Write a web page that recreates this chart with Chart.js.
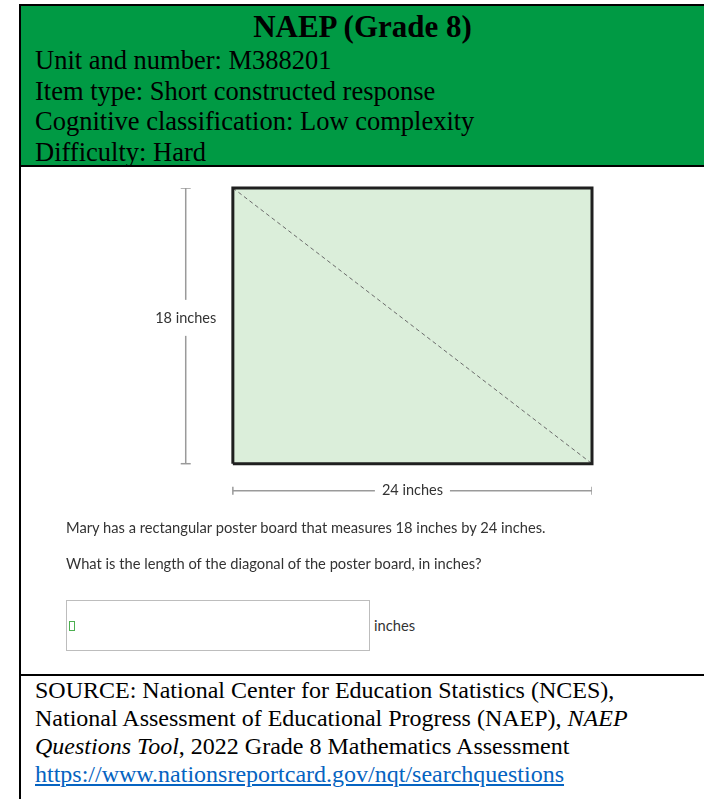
<!DOCTYPE html>
<html>
<head>
<meta charset="utf-8">
<script src="https://cdn.jsdelivr.net/npm/chart.js@4/dist/chart.umd.min.js"></script>
<style>
  body { margin: 0; background: #fff; width: 704px; height: 799px; overflow: hidden; position: relative; }
  .frame-left { position: absolute; left: 19px; top: 4px; width: 2px; height: 795px; background: #000; }
  .rule { position: absolute; left: 19px; width: 685px; height: 2px; background: #000; }
  .header { position: absolute; left: 21px; top: 6px; width: 683px; height: 159px; background: #009a44; }
  .serif { font-family: "Liberation Serif", "Times New Roman", serif; color: #000; }
  .title { position: absolute; left: 21px; width: 683px; top: 7px; text-align: center; font-weight: bold; font-size: 31px; line-height: 40px; }
  .hline { position: absolute; left: 35px; font-size: 26.5px; line-height: 30px; white-space: nowrap; }
  .item { position: absolute; font-family: Lato, "Open Sans", sans-serif; font-size: 14.7px; color: #333; white-space: nowrap; }
  .answer { position: absolute; left: 66px; top: 600px; width: 304px; height: 51px; border: 1px solid #bdbdbd; box-sizing: border-box; }
  .cursor { position: absolute; left: 2px; top: 20px; width: 6px; height: 10px; border: 1px solid #4caf50; box-sizing: border-box; }
  .src { position: absolute; left: 35px; font-size: 24px; line-height: 28px; white-space: nowrap; }
  .src a { color: #0563c1; text-decoration: underline; }
  #diagram { position: absolute; left: 150px; top: 176px; }
</style>
</head>
<body>
<div class="header"></div>
<div class="frame-left"></div>
<div class="rule" style="top:4px"></div>
<div class="rule" style="top:165px"></div>
<div class="rule" style="top:674px"></div>

<div class="serif title">NAEP (Grade 8)</div>
<div class="serif hline" style="top:45px">Unit and number: M388201</div>
<div class="serif hline" style="top:76px">Item type: Short constructed response</div>
<div class="serif hline" style="top:106px">Cognitive classification: Low complexity</div>
<div class="serif hline" style="top:137px">Difficulty: Hard</div>

<canvas id="diagram" width="470" height="344"></canvas>

<div class="item" style="left:66px; top:518px">Mary has a rectangular poster board that measures 18 inches by 24 inches.</div>
<div class="item" style="left:66px; top:554px">What is the length of the diagonal of the poster board, in inches?</div>
<div class="answer"><div class="cursor"></div></div>
<div class="item" style="left:374px; top:616px">inches</div>

<div class="serif src" style="top:676px">SOURCE: National Center for Education Statistics (NCES),</div>
<div class="serif src" style="top:704px">National Assessment of Educational Progress (NAEP), <i>NAEP</i></div>
<div class="serif src" style="top:732px"><i>Questions Tool</i>, 2022 Grade 8 Mathematics Assessment</div>
<div class="serif src" style="top:760px"><a href="#">https://www.nationsreportcard.gov/nqt/searchquestions</a></div>

<script>
// Poster board dimensions (inches)
const boardWidth = 24;
const boardHeight = 18;
const sideLabels = ['24 inches', '18 inches'];

// Outline of the board, walked corner to corner
const cornerX = [0, 0, boardWidth, boardWidth, 0];
const cornerY = [0, boardHeight, boardHeight, 0, 0];

// Top edge, filled down to the bottom edge for the board colour
const topX = [0, boardWidth];
const topY = [boardHeight, boardHeight];

// Diagonal from top-left to bottom-right
const diagonalX = [0, boardWidth];
const diagonalY = [boardHeight, 0];

// dimension lines sit a little outside the board
const dimOffsetX = -3.15;
const dimOffsetY = -1.76;

const toPoints = (xs, ys) => xs.map((x, i) => ({ x: x, y: ys[i] }));

// Draw the side labels on top of the dimension lines, with a white gap behind them
const dimLabels = {
  id: 'dimLabels',
  afterDatasetsDraw(chart) {
    const { ctx, scales } = chart;
    ctx.save();
    ctx.font = '14.5px Lato, "Open Sans", sans-serif';
    ctx.textAlign = 'center';
    ctx.textBaseline = 'middle';
    const spots = [
      { text: sideLabels[0], x: scales.x.getPixelForValue(boardWidth / 2), y: scales.y.getPixelForValue(dimOffsetY), padX: 14, padY: 5 },
      { text: sideLabels[1], x: scales.x.getPixelForValue(dimOffsetX), y: scales.y.getPixelForValue(boardHeight / 2) - 8, padX: 2, padY: 18 }
    ];
    spots.forEach(s => {
      const w = ctx.measureText(s.text).width + s.padX;
      ctx.fillStyle = '#fff';
      ctx.fillRect(s.x - w / 2, s.y - s.padY, w, s.padY * 2);
      ctx.fillStyle = '#333';
      ctx.fillText(s.text, s.x, s.y);
    });
    ctx.restore();
  }
};

var ctx = document.getElementById('diagram').getContext('2d');
var diagram = new Chart(ctx, {
  type: 'line',
  data: {
    datasets: [
      {
        label: 'diagonal',
        data: toPoints(diagonalX, diagonalY),
        borderColor: '#6b6b6b',
        borderWidth: 1,
        borderDash: [4, 3],
        pointRadius: 0,
        fill: false,
        order: 1
      },
      {
        label: 'board',
        data: toPoints(cornerX, cornerY),
        borderColor: '#1f1f1f',
        borderWidth: 3,
        pointRadius: 0,
        fill: false,
        clip: false,
        order: 0
      },
      {
        label: 'board fill',
        data: toPoints(topX, topY),
        borderWidth: 0,
        borderColor: 'rgba(0,0,0,0)',
        backgroundColor: '#dbeeda',
        pointRadius: 0,
        fill: 'origin',
        order: 3
      },
      {
        label: 'height',
        data: toPoints([dimOffsetX, dimOffsetX], [0, boardHeight]),
        borderColor: '#9a9a9a',
        borderWidth: 1.5,
        pointStyle: 'line',
        pointRadius: 5,
        pointBorderColor: '#9a9a9a',
        pointBorderWidth: 1.5,
        fill: false,
        order: 0
      },
      {
        label: 'width',
        data: toPoints([0, boardWidth], [dimOffsetY, dimOffsetY]),
        borderColor: '#9a9a9a',
        borderWidth: 1.5,
        pointStyle: 'line',
        pointRotation: 90,
        pointRadius: 4,
        pointBorderColor: '#9a9a9a',
        pointBorderWidth: 1.5,
        fill: false,
        order: 0
      }
    ]
  },
  options: {
    responsive: false,
    animation: false,
    layout: { padding: { left: 23, right: 28, top: 12, bottom: 18 } },
    plugins: {
      legend: { display: false },
      tooltip: { enabled: false }
    },
    scales: {
      x: { type: 'linear', min: -4, max: boardWidth, display: false },
      y: { type: 'linear', min: -2.5, max: boardHeight, display: false }
    }
  },
  plugins: [dimLabels]
});
</script>
</body>
</html>
